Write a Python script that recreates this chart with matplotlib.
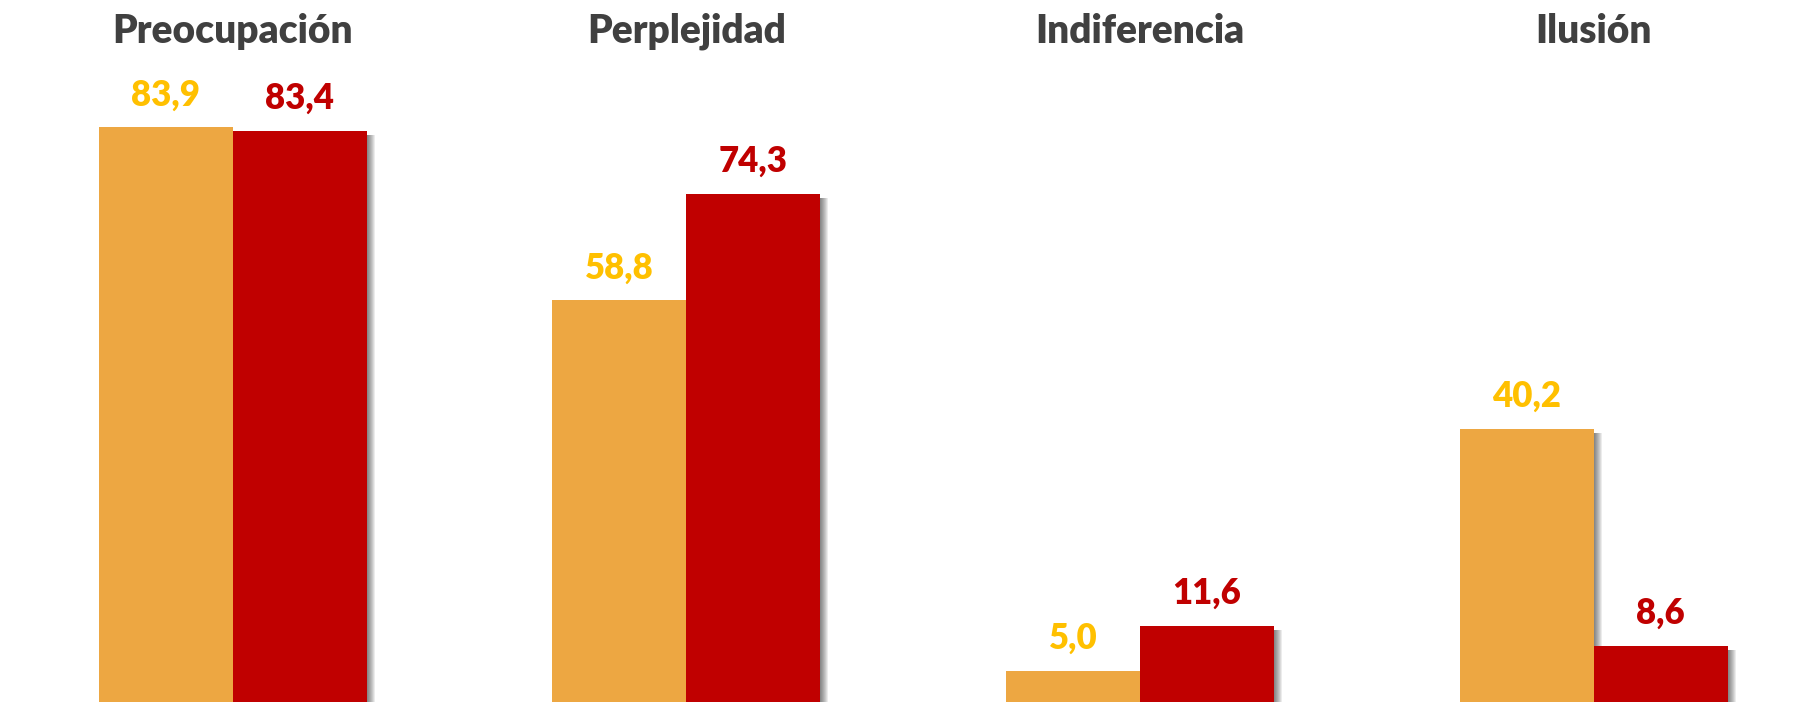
import matplotlib
matplotlib.use("Agg")
import matplotlib.pyplot as plt
import matplotlib.patheffects as pe
import numpy as np

categories = ["Preocupación", "Perplejidad", "Indiferencia", "Ilusión"]
serie_a = [83.9, 58.8, 5.0, 40.2]
serie_b = [83.4, 74.3, 11.6, 8.6]
labels_a = ["83,9", "58,8", "5,0", "40,2"]
labels_b = ["83,4", "74,3", "11,6", "8,6"]

col_a = "#EDA742"
col_b = "#C00000"
lab_a = "#FFC000"
lab_b = "#C00000"

plt.rcParams['font.family'] = ['Lato', 'DejaVu Sans']

fig = plt.figure(figsize=(18.10, 7.02), dpi=100)
ax = fig.add_axes([0, 0, 1, 1])
ax.set_xlim(-0.513, 3.477)
ax.set_ylim(0.5, 102.4)
ax.axis('off')

x = np.arange(len(categories))
w = 0.2954

px = 72 / 100.0
shadow = [pe.SimplePatchShadow(offset=(d * px, -4 * px), shadow_rgbFace='black', alpha=0.075)
          for d in (1, 2, 3, 4, 5, 6, 7, 8)] + [pe.Normal()]

bars_a = ax.bar(x - w / 2, serie_a, width=w, color=col_a, zorder=2)
bars_b = ax.bar(x + w / 2, serie_b, width=w, color=col_b, zorder=3)
for b in list(bars_a) + list(bars_b):
    b.set_path_effects(shadow)

for xi, v, t in zip(x, serie_a, labels_a):
    ax.annotate(t, (xi - w / 2, v), xytext=(0, 11.5), textcoords='offset points',
                ha='center', va='bottom', fontsize=25, fontweight='heavy', color=lab_a)
for xi, v, t in zip(x, serie_b, labels_b):
    ax.annotate(t, (xi + w / 2, v), xytext=(0, 11.5), textcoords='offset points',
                ha='center', va='bottom', fontsize=25, fontweight='heavy', color=lab_b)

for xi, c in zip(x, categories):
    ax.text(xi, 1 - 43 / 702, c, transform=ax.get_xaxis_transform(), ha='center',
            va='baseline', fontsize=28, fontweight='heavy', color='#404040')

fig.savefig("out.png", dpi=100)
